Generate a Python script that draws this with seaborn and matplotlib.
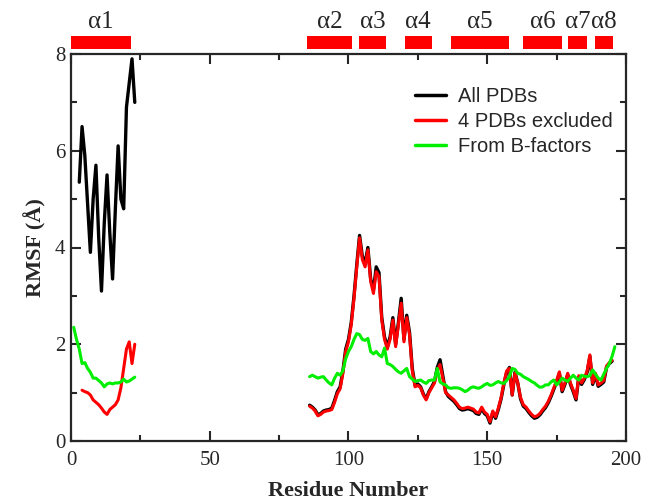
import numpy as np
import pandas as pd
import matplotlib
matplotlib.use("Agg")
import matplotlib.pyplot as plt
import matplotlib.transforms as mtransforms
from matplotlib.patches import Rectangle
import seaborn as sns

# --- data ---
# N-terminal segment
res_a1_black = list(range(3, 24))
black_a1 = [5.35, 6.5, 5.9, 4.9, 3.9, 5.0, 5.7, 4.2, 3.1, 4.5, 5.5, 4.3, 3.35, 4.8,
            6.1, 5.0, 4.8, 6.9, 7.4, 7.9, 7.0]
res_a1_red = list(range(4, 24))
red_a1 = [1.05, 1.02, 1.0, 0.95, 0.85, 0.8, 0.75, 0.68, 0.6, 0.55, 0.65, 0.7, 0.75,
          0.85, 1.1, 1.5, 1.9, 2.05, 1.6, 2.0]
res_a1_green = list(range(1, 24))
green_a1 = [2.35, 2.1, 1.9, 1.6, 1.62, 1.5, 1.42, 1.3, 1.3, 1.25, 1.2, 1.12, 1.18,
            1.2, 1.18, 1.2, 1.2, 1.22, 1.28, 1.22, 1.24, 1.28, 1.32]

# main segment
res_main = list(range(86, 196))
black_main = [0.74, 0.7, 0.64, 0.54, 0.57, 0.62, 0.64, 0.65, 0.68, 0.84,
              1.02, 1.12, 1.45, 1.9, 2.1, 2.45, 3.0, 3.65, 4.25, 3.82,
              3.68, 4.0, 3.35, 3.12, 3.6, 3.48, 2.55, 2.15, 1.95, 2.15,
              2.55, 2.0, 2.45, 2.95, 2.1, 2.6, 2.25, 1.5, 1.15, 1.18,
              1.12, 0.97, 0.87, 1.02, 1.12, 1.23, 1.52, 1.68, 1.35, 1.02,
              0.92, 0.87, 0.82, 0.75, 0.67, 0.64, 0.65, 0.67, 0.65, 0.63,
              0.57, 0.55, 0.67, 0.57, 0.52, 0.37, 0.59, 0.47, 0.65, 0.87,
              1.17, 1.42, 1.52, 0.95, 1.42, 1.2, 0.87, 0.72, 0.67, 0.59,
              0.52, 0.47, 0.49, 0.54, 0.62, 0.69, 0.79, 0.92, 1.07, 1.22,
              1.4, 1.02, 1.17, 1.37, 1.17, 1.02, 0.85, 1.32, 1.17, 1.27,
              1.42, 1.75, 1.17, 1.37, 1.13, 1.17, 1.22, 1.52, 1.6, 1.65]
red_main = [0.72, 0.68, 0.62, 0.52, 0.55, 0.6, 0.62, 0.63, 0.65, 0.8,
            0.98, 1.08, 1.4, 1.85, 2.05, 2.4, 2.95, 3.6, 4.2, 3.75,
            3.6, 3.95, 3.3, 3.05, 3.5, 3.4, 2.5, 2.1, 1.9, 2.1,
            2.5, 1.95, 2.4, 2.85, 2.05, 2.55, 2.2, 1.45, 1.12, 1.15,
            1.1, 0.95, 0.85, 1.0, 1.1, 1.2, 1.45, 1.58, 1.3, 1.0,
            0.95, 0.9, 0.85, 0.78, 0.7, 0.67, 0.68, 0.7, 0.68, 0.66,
            0.6, 0.58, 0.7, 0.6, 0.55, 0.4, 0.62, 0.5, 0.68, 0.9,
            1.2, 1.45, 1.5, 0.95, 1.4, 1.2, 0.9, 0.75, 0.7, 0.62,
            0.55, 0.5, 0.52, 0.57, 0.65, 0.72, 0.82, 0.95, 1.1, 1.25,
            1.43, 1.05, 1.2, 1.4, 1.2, 1.05, 0.88, 1.35, 1.2, 1.3,
            1.45, 1.78, 1.2, 1.4, 1.16, 1.2, 1.25, 1.55, 1.62, 1.67]
res_main_green = list(range(86, 197))
green_main = [1.33, 1.36, 1.33, 1.3, 1.32, 1.33, 1.26, 1.2, 1.16, 1.3,
              1.4, 1.36, 1.45, 1.7, 1.85, 1.95, 2.1, 2.22, 2.2, 2.1,
              2.08, 2.12, 1.85, 1.8, 1.85, 1.78, 1.74, 1.92, 1.6, 1.58,
              1.54, 1.48, 1.43, 1.4, 1.45, 1.5, 1.33, 1.28, 1.23, 1.25,
              1.26, 1.22, 1.19, 1.25, 1.26, 1.26, 1.5, 1.22, 1.18, 1.16,
              1.1, 1.09, 1.1, 1.1, 1.09, 1.06, 1.02, 1.05, 1.1, 1.12,
              1.1, 1.09, 1.12, 1.16, 1.19, 1.15, 1.16, 1.2, 1.23, 1.2,
              1.19, 1.25, 1.33, 1.5, 1.48, 1.4, 1.38, 1.33, 1.3, 1.27,
              1.23, 1.2, 1.15, 1.11, 1.12, 1.16, 1.16, 1.22, 1.26, 1.16,
              1.22, 1.3, 1.26, 1.23, 1.3, 1.36, 1.3, 1.26, 1.36, 1.34,
              1.33, 1.35, 1.47, 1.38, 1.3, 1.26, 1.38, 1.5, 1.6, 1.75, 1.95]

# helices
helix_names = ["α1", "α2", "α3", "α4", "α5", "α6", "α7", "α8"]
helix_start = [0, 85, 103.8, 120.3, 137, 163, 179, 189]
helix_end = [21.5, 101.3, 113.5, 130, 158, 177, 186, 195.3]

series = [
    ("All PDBs", "black", 2.4, [(res_a1_black, black_a1), (res_main, black_main)]),
    ("4 PDBs excluded", "#ff0000", 2.2, [(res_a1_red, red_a1), (res_main, red_main)]),
    ("From B-factors", "#00ee00", 2.2, [(res_a1_green, green_a1), (res_main_green, green_main)]),
]

sns.set_style("ticks")
plt.rcParams["font.family"] = ["Liberation Serif", "DejaVu Serif"]

fig = plt.figure(figsize=(6.45, 5.0), dpi=100)
ax = fig.add_axes([0.110, 0.118, 0.8605, 0.774])

for name, col, lw, segs in series:
    for i, (x, y) in enumerate(segs):
        df = pd.DataFrame({"res": x, "rmsf": y})
        sns.lineplot(data=df, x="res", y="rmsf", color=col, lw=lw, ax=ax,
                     label=name if i == 0 else None, legend=False)

ax.set_xlim(0, 200)
ax.set_ylim(0, 8)
ax.set_xticks([0, 50, 100, 150, 200])
ax.set_xticks([25, 75, 125, 175], minor=True)
ax.set_yticks([0, 2, 4, 6, 8])
ax.set_yticks([1, 3, 5, 7], minor=True)
ax.tick_params(which="both", direction="in", top=True, right=True, width=1.5,
               labelsize=15)
ax.tick_params(axis="x", pad=7)
ax.tick_params(axis="y", pad=4)
ax.tick_params(which="major", length=7)
ax.tick_params(which="minor", length=4)
for s in ax.spines.values():
    s.set_linewidth(1.6)

ax.set_xlabel("Residue Number", fontsize=16, fontweight="bold", labelpad=8)
ax.set_ylabel("RMSF (Å)", fontsize=16, fontweight="bold", labelpad=6)

# helix bars above the plot
trans = mtransforms.blended_transform_factory(ax.transData, ax.transAxes)
for nm, a, b in zip(helix_names, helix_start, helix_end):
    ax.add_patch(Rectangle((a, 1.013), b - a, 0.034, transform=trans,
                           color="#ff0000", clip_on=False, lw=0))
    ax.text((a + b) / 2, 1.082, nm, transform=trans, ha="center", va="center",
            fontsize=18)

leg = ax.legend(loc="upper right", bbox_to_anchor=(0.99, 0.935), frameon=False,
                prop={"family": "Liberation Sans", "size": 14.5},
                handlelength=1.5, handletextpad=0.6, labelspacing=0.3,
                borderaxespad=0)
for h in leg.get_lines():
    h.set_linewidth(2.5)

fig.savefig("out.png", dpi=100)
